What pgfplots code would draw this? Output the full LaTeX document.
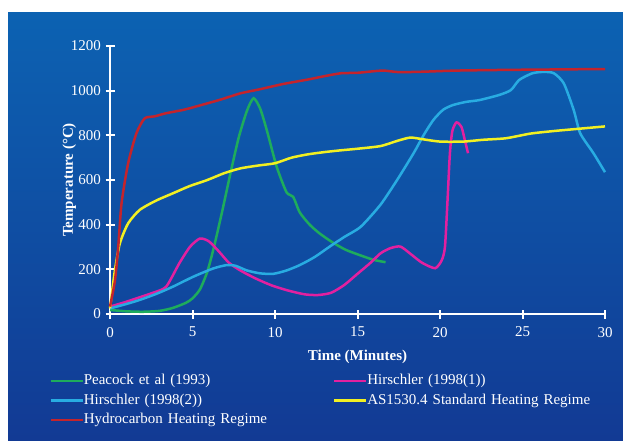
\documentclass[border=0pt]{standalone}
\usepackage{pgfplots}
\pgfplotsset{compat=1.18}
\usepackage{fontspec}
\setmainfont{Liberation Serif}

\definecolor{bgtop}{RGB}{12,98,178}
\definecolor{bgbot}{RGB}{18,58,148}
\definecolor{cgreen}{RGB}{30,172,92}
\definecolor{cpink}{RGB}{226,32,160}
\definecolor{ccyan}{RGB}{40,172,226}
\definecolor{cyell}{RGB}{242,240,34}
\definecolor{cred}{RGB}{196,36,44}

\begin{document}
\begin{tikzpicture}
\fill[white] (0pt,0pt) rectangle (623pt,440pt);
\shade[top color=bgtop,bottom color=bgbot] (8pt,0pt) rectangle (623pt,427pt);
\begin{axis}[
  at={(110pt,126pt)}, anchor=origin,
  scale only axis, width=495pt, height=268pt,
  xmin=0, xmax=30, ymin=0, ymax=1200,
  clip=false,
  axis lines=left, axis line style={white, line width=2.5pt, -},
  xtick={0,5,...,30}, ytick={0,200,...,1200},
  tick align=center, major tick length=9pt,
  tick style={white, line width=2pt},
  every tick label/.append style={font=\fontsize{15}{17}\selectfont, text=white},
  /pgf/number format/assume math mode=true,
  /pgf/number format/1000 sep={},
  xticklabel style={yshift=-5pt},
  yticklabel style={xshift=-1pt},
  xlabel={\textbf{Time (Minutes)}}, ylabel={\textbf{Temperature (°C)}},
  label style={font=\fontsize{15}{17}\selectfont, text=white},
  xlabel style={yshift=-6pt},
  ylabel style={yshift=-12pt},
  legend columns=2,
  legend cell align=left,
  legend style={at={(-0.123,-0.222)}, anchor=north west, draw=none, fill=none,
    inner sep=0pt, row sep=5pt,
    font=\fontsize{15}{17}\selectfont, text=white,
    nodes={inner sep=0pt, text width=249pt, text height=11pt, text depth=3.5pt}},
  legend image code/.code={\draw[#1, line width=2.5pt] (0pt,0pt) -- (32pt,0pt);},
  every axis plot/.append style={line width=2.5pt, smooth, tension=0.4, no marks},
]
\addplot[cgreen] coordinates {
 (0,18) (1,12) (2,10) (3,14) (3.8,27) (4.6,50) (5,70) (5.45,110) (5.9,190)
 (6.3,300) (6.8,460) (7.3,630) (7.8,790) (8.3,910) (8.7,966) (9.1,920)
 (9.5,824) (10.1,660) (10.7,545) (11.1,525) (11.5,455) (12.1,400) (12.7,361)
 (13.5,320) (14.3,287) (15.2,262) (16,242) (16.7,232)};
\addlegendentry{Peacock et al (1993)}
\addplot[cpink] coordinates {
 (0,33) (1,55) (1.8,75) (2.6,95) (3.4,122) (4.2,227) (4.85,301) (5.45,338)
 (6.0,325) (6.6,280) (7.2,230) (7.9,195) (8.8,160) (9.8,128) (10.8,105)
 (11.8,88) (12.6,85) (13.4,95) (14.2,130) (15,180) (15.8,230) (16.4,272)
 (17,295) (17.6,302) (18.2,270) (18.9,230) (19.7,205) (20.1,240) (20.3,300)
 (20.45,500) (20.6,720) (20.75,820) (21.0,858) (21.3,838) (21.5,780) (21.7,720)};
\addlegendentry{Hirschler (1998(1))}
\addplot[ccyan] coordinates {
 (0,25) (1,45) (1.8,63) (2.8,90) (3.8,122) (5.05,167) (6.26,204) (7.07,219)
 (7.6,216) (8.3,195) (9.1,182) (9.9,180) (10.7,195) (11.5,219) (12.4,255)
 (13.3,301) (14.2,345) (15.2,391) (16.4,490) (17.4,600) (18.4,720) (19.0,800)
 (19.6,869) (20.2,915) (20.8,936) (21.6,950) (22.4,958) (23.6,981) (24.3,1003)
 (24.8,1048) (25.6,1078) (26.3,1084) (26.9,1078) (27.5,1033) (28.1,914)
 (28.5,809) (29.3,720) (30,635)};
\addlegendentry{Hirschler (1998(2))}
\addplot[cyell] coordinates {
 (0,25) (0.3,197) (0.6,317) (1.1,406) (1.8,466) (2.8,508) (3.8,540) (4.8,572)
 (5.9,600) (6.9,630) (7.9,652) (9,665) (10,675) (11,700) (12,715) (13,725)
 (14,733) (15,740) (16.4,752) (17.4,775) (18.2,790) (19,782) (20,772)
 (21.4,772) (22.6,780) (24,787) (25.5,808) (27,820) (28.5,830) (30,840)};
\addlegendentry{AS1530.4 Standard Heating Regime}
\addplot[cred] coordinates {
 (0,33) (0.3,150) (0.5,301) (0.7,496) (1.1,675) (1.6,809) (2.1,876) (2.7,885)
 (3.4,899) (4.5,915) (5.5,935) (6.7,960) (7.9,988) (9,1005) (10.5,1030)
 (12,1050) (13,1065) (14,1078) (15,1080) (16.5,1090) (17.5,1083) (19,1085)
 (21,1090) (24,1093) (27,1095) (30,1097)};
\addlegendentry{Hydrocarbon Heating Regime}
\end{axis}
\end{tikzpicture}
\end{document}
